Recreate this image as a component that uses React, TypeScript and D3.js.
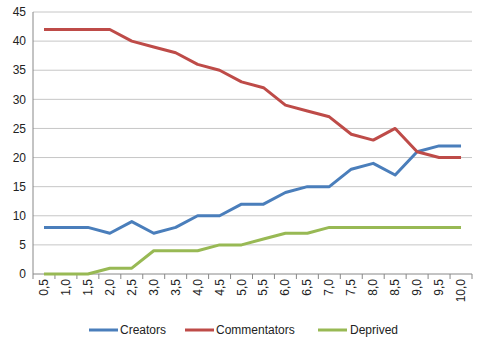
import React from "react";
import * as d3 from "d3";

const WIDTH = 480;
const HEIGHT = 344;

const categories = ["0,5", "1,0", "1,5", "2,0", "2,5", "3,0", "3,5", "4,0", "4,5", "5,0",
  "5,5", "6,0", "6,5", "7,0", "7,5", "8,0", "8,5", "9,0", "9,5", "10,0"];
const creators = [8, 8, 8, 7, 9, 7, 8, 10, 10, 12, 12, 14, 15, 15, 18, 19, 17, 21, 22, 22];
const commentators = [42, 42, 42, 42, 40, 39, 38, 36, 35, 33, 32, 29, 28, 27, 24, 23, 25, 21, 20, 20];
const deprived = [0, 0, 0, 1, 1, 4, 4, 4, 5, 5, 6, 7, 7, 8, 8, 8, 8, 8, 8, 8];
const yTicks = [0, 5, 10, 15, 20, 25, 30, 35, 40, 45];

const series = [
  { name: "Creators", values: creators, color: "#4A7EBB" },
  { name: "Commentators", values: commentators, color: "#BE4B48" },
  { name: "Deprived", values: deprived, color: "#98B954" },
];

const left = 33;
const right = 472;
const top = 12;
const bottom = 274;
const font = "'Liberation Sans', Arial, sans-serif";

export default function App() {
  const x = d3.scaleBand<string>().domain(categories).range([left, right]);
  const y = d3.scaleLinear().domain([0, 45]).range([bottom, top]);
  const line = d3
    .line<number>()
    .x((_, i) => (x(categories[i]) ?? 0) + x.bandwidth() / 2)
    .y((d) => y(d));

  const legendItems = [
    { lx: 89, tx: 120 },
    { lx: 185, tx: 216 },
    { lx: 318, tx: 350 },
  ];

  return (
    <svg width={WIDTH} height={HEIGHT} style={{ position: "absolute", left: 0, top: 0, background: "#fff" }}>
      {yTicks.map((t) => (
        <g key={t}>
          {t > 0 && (
            <line x1={left} x2={right} y1={y(t)} y2={y(t)} stroke="#c6c6c6" strokeWidth={1} />
          )}
          <text x={26} y={y(t)} dy="0.35em" textAnchor="end" fontSize={12} fontFamily={font} fill="#222">
            {t}
          </text>
        </g>
      ))}
      <line x1={left} x2={left} y1={top} y2={bottom} stroke="#888" />
      <line x1={left} x2={right} y1={bottom} y2={bottom} stroke="#888" />
      {categories.map((c, i) => {
        const bx = (x(c) ?? 0);
        const cx = bx + x.bandwidth() / 2;
        return (
          <g key={c}>
            <line x1={bx} x2={bx} y1={bottom} y2={bottom + 5} stroke="#888" />
            {i === categories.length - 1 && (
              <line x1={right} x2={right} y1={bottom} y2={bottom + 5} stroke="#888" />
            )}
            <text
              transform={`translate(${cx + 4},${bottom + 5}) rotate(-90)`}
              textAnchor="end"
              fontSize={12}
              fontFamily={font}
              fill="#222"
            >
              {c}
            </text>
          </g>
        );
      })}
      {series.map((s) => (
        <path key={s.name} d={line(s.values) ?? ""} fill="none" stroke={s.color} strokeWidth={3} strokeLinejoin="round" />
      ))}
      {series.map((s, i) => (
        <g key={s.name}>
          <line x1={legendItems[i].lx} x2={legendItems[i].lx + 29} y1={330} y2={330} stroke={s.color} strokeWidth={3} />
          <text x={legendItems[i].tx} y={330} dy="0.35em" fontSize={12} fontFamily={font} fill="#222">
            {s.name}
          </text>
        </g>
      ))}
    </svg>
  );
}
